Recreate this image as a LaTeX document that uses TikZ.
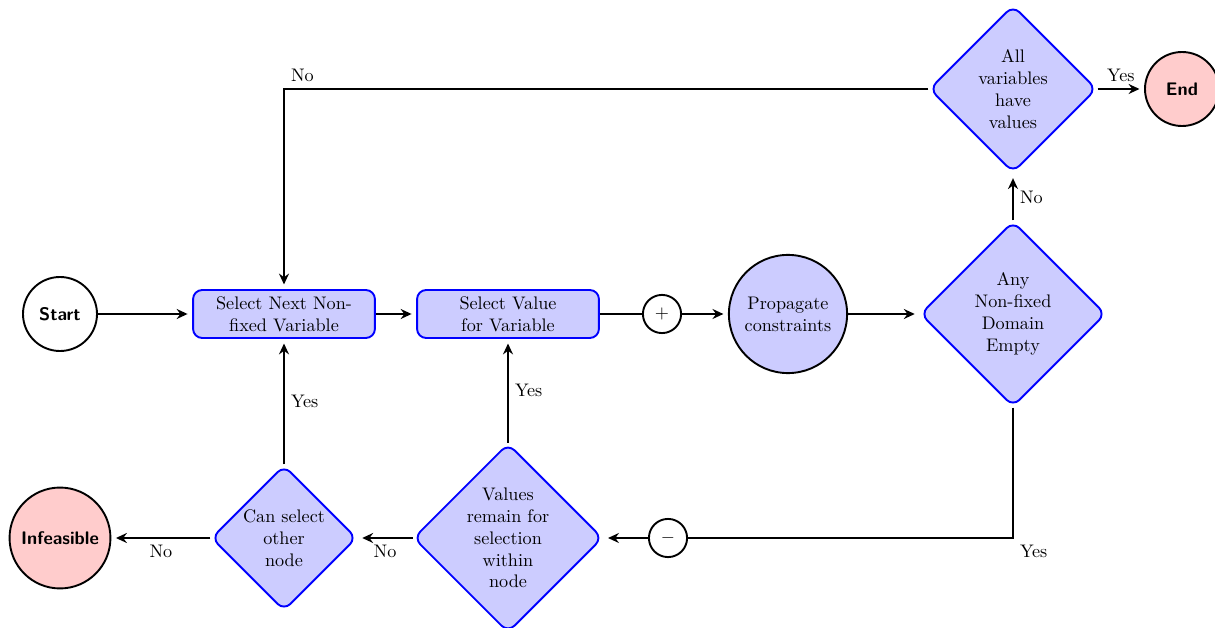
\documentclass[tikz,border=0pt]{standalone}
\usetikzlibrary{shapes.geometric,arrows.meta}
\begin{document}
\begin{tikzpicture}[x=0.55pt,y=-0.55pt,
  every node/.style={font=\normalsize},
  terminal/.style={circle,draw=black,line width=1.05pt,minimum size=#1,inner sep=0pt,font=\sffamily\bfseries},
  process/.style={rectangle,rounded corners=5pt,draw=blue,fill=blue!20,line width=1.05pt,
    minimum width=100pt,minimum height=26.4pt,align=center,inner sep=1pt},
  decision/.style={diamond,rounded corners=5pt,draw=blue,fill=blue!20,line width=1.05pt,
    minimum size=#1,inner sep=0pt,align=center},
  junction/.style={circle,draw=black,line width=1.05pt,minimum size=21pt,inner sep=0pt},
  action/.style={circle,draw=black,line width=1.05pt,fill=blue!20,minimum size=65pt,inner sep=0pt,align=center},
  flow/.style={line width=1.05pt,-{Stealth[length=6pt,width=5.5pt,inset=2pt]},shorten >=2.5pt},
  link/.style={line width=1.05pt}
]
\useasboundingbox (0,0) rectangle (1215,628);

% nodes
\node[terminal=40.7pt] (start) at (60,314) {Start};
\node[process] (next) at (284,314) {Select Next Non-\\fixed Variable};
\node[process] (value) at (508,314) {Select Value\\for Variable};
\node[junction] (plus) at (662,314) {$+$};
\node[action] (prop) at (788,314) {Propagate\\constraints};
\node[decision=102pt] (empty) at (1013,314) {Any\\Non-fixed\\Domain\\Empty};
\node[decision=92pt] (all) at (1013,89) {All\\variables\\have\\values};
\node[terminal=40.7pt,fill=red!20] (end) at (1182,89) {End};
\node[junction] (minus) at (668,538) {$-$};
\node[decision=104pt] (remain) at (508,538) {Values\\remain for\\selection\\within\\node};
\node[decision=80pt] (other) at (284,538) {Can select\\other\\node};
\node[terminal=55.5pt,fill=red!20] (infeas) at (60,538) {Infeasible};

% connectors
\draw[flow] (start) -- (next);
\draw[flow] (next) -- (value);
\draw[link] (value) -- (plus);
\draw[flow] (plus) -- (prop);
\draw[flow] (prop) -- (empty);
\draw[flow] (empty.north) -- node[right] {No} (all.south);
\draw[flow] (all.east) -- node[above] {Yes} (end);
\draw[flow] (all.west) -| node[pos=0.5,above right] {No} (next.north);
\draw[link] (empty.south) |- node[pos=0.5,below right] {Yes} (minus.east);
\draw[flow] (minus.west) -- (remain.east);
\draw[flow] (remain.north) -- node[right] {Yes} (value.south);
\draw[flow] (remain.west) -- node[below] {No} (other.east);
\draw[flow] (other.north) -- node[right] {Yes} (next.south);
\draw[flow] (other.west) -- node[below] {No} (infeas);
\end{tikzpicture}
\end{document}
